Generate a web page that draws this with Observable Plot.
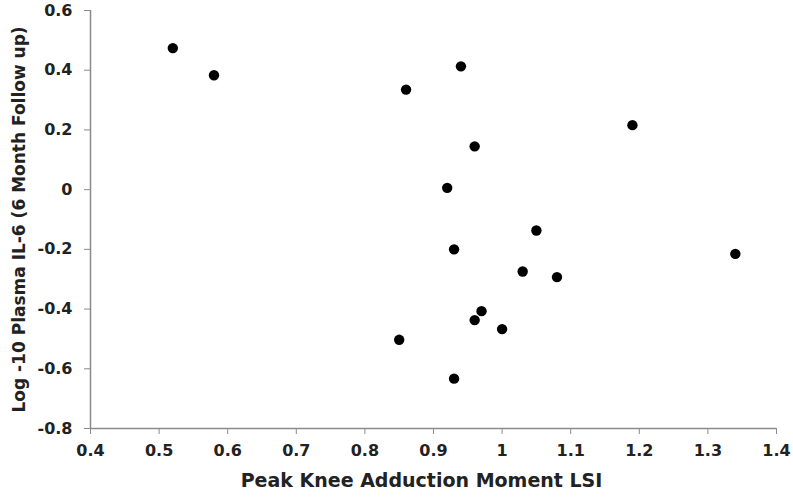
<!DOCTYPE html>
<html>
<head>
<meta charset="utf-8">
<script src="https://cdn.jsdelivr.net/npm/d3@7"></script>
<script src="https://cdn.jsdelivr.net/npm/@observablehq/plot@0.6"></script>
<style>
  html, body { margin: 0; padding: 0; background: #fff; }
  #chart svg { display: block; }
</style>
</head>
<body>
<div id="chart"></div>
<script>
const kamLSI = [0.52, 0.58, 0.94, 0.86, 1.19, 0.96, 0.92, 1.05, 0.93, 1.34, 1.03, 1.08, 0.97, 0.96, 1.00, 0.85, 0.93];
const il6Log = [0.474, 0.383, 0.413, 0.335, 0.216, 0.145, 0.006, -0.137, -0.200, -0.215, -0.274, -0.293, -0.407, -0.437, -0.467, -0.503, -0.633];
const xTicks = [0.4, 0.5, 0.6, 0.7, 0.8, 0.9, 1.0, 1.1, 1.2, 1.3, 1.4];
const yTicks = [-0.8, -0.6, -0.4, -0.2, 0, 0.2, 0.4, 0.6];
const xTitle = "Peak Knee Adduction Moment LSI";
const yTitle = "Log -10 Plasma IL-6 (6 Month Follow up)";

const data = kamLSI.map((x, i) => ({x, y: il6Log[i]}));
const fmt = d => (d === 0 ? "0" : d === 1 ? "1" : String(d));

const chart = Plot.plot({
  width: 793,
  height: 497,
  marginLeft: 90,
  marginRight: 17,
  marginTop: 10,
  marginBottom: 69,
  style: {fontFamily: "'DejaVu Sans', Verdana, sans-serif", fontWeight: "bold", color: "#222", background: "#fff"},
  x: {domain: [0.4, 1.4]},
  y: {domain: [-0.8, 0.6]},
  marks: [
    Plot.axisX({ticks: xTicks, tickFormat: fmt, tickSize: 6, tickPadding: 10, fontSize: 16, stroke: "#8a8a8a", label: null}),
    Plot.axisY({ticks: yTicks, tickFormat: fmt, tickSize: 6, tickPadding: 12, fontSize: 16, stroke: "#8a8a8a", label: null}),
    Plot.ruleY([-0.8], {stroke: "#8a8a8a", strokeWidth: 1.5}),
    Plot.ruleX([0.4], {stroke: "#8a8a8a", strokeWidth: 1.5}),
    Plot.text([xTitle], {frameAnchor: "bottom", dx: -12, dy: 58, fontSize: 19, fontWeight: "bold", fill: "#222"}),
    Plot.text([yTitle], {frameAnchor: "left", textAnchor: "middle", dx: -71, rotate: -90, fontSize: 17, fontWeight: "bold", fill: "#222"}),
    Plot.dot(data, {x: "x", y: "y", r: 5.2, fill: "#000", stroke: "none"})
  ]
});
document.getElementById("chart").appendChild(chart);
</script>
</body>
</html>
